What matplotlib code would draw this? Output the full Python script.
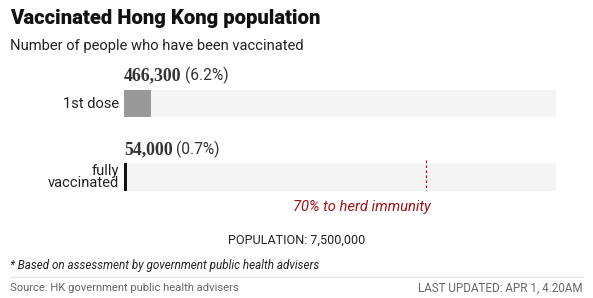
import matplotlib
matplotlib.use("Agg")
import matplotlib.pyplot as plt
from matplotlib import font_manager

# Data
categories = ["1st dose", "fully\nvaccinated"]
people = [466300, 54000]
population = 7500000
herd_share = 0.70
bar_colors = ["#999999", "#111111"]

W, H = 593, 298
fig = plt.figure(figsize=(W / 100, H / 100), dpi=100)
fig.patch.set_facecolor("white")

# Full-figure overlay axes in pixel units for text
ov = fig.add_axes([0, 0, 1, 1])
ov.set_xlim(0, W)
ov.set_ylim(H, 0)
ov.axis("off")


def pt(px):
    return px * 72 / 100


installed = {f.name for f in font_manager.fontManager.ttflist}
narrow = "Liberation Sans Narrow" if "Liberation Sans Narrow" in installed else "Roboto"

# Bar axes placed in pixel coordinates
left, right = 124, 556
bar_h = 0.369
pad = bar_h / 2
span = 1 + 2 * pad
ax_top, ax_bottom = 90, 190.5
px_per_unit = (ax_bottom - ax_top) / span
ax = fig.add_axes([left / W, 1 - ax_bottom / H, (right - left) / W, (ax_bottom - ax_top) / H])
ax.set_xlim(0, population)
ax.set_ylim(1 + pad, -pad)
ax.axis("off")

ypos = list(range(len(categories)))
ax.barh(ypos, [population] * len(ypos), height=bar_h, color="#f4f4f4", zorder=1)
ax.barh(ypos, people, height=bar_h, color=bar_colors, zorder=2)

# Herd-immunity marker on the fully vaccinated track
ax.vlines(population * herd_share, 1 - pad - 0.04, 1 + pad, colors="#b5121b",
          linestyles=(0, (2, 2)), linewidth=0.9, zorder=3)

fig.canvas.draw()
renderer = fig.canvas.get_renderer()

# Value labels above bars and category labels
for i, (cat, val) in enumerate(zip(categories, people)):
    yc = ax_top + (i + pad) * px_per_unit
    ybase = yc - bar_h / 2 * px_per_unit - 9.5
    t1 = ov.text(left, ybase, f"{val:,}", fontsize=pt(17.8), fontweight="bold",
                 family="Liberation Serif", color="#333333", va="baseline", ha="left")
    bb = t1.get_window_extent(renderer)
    x_end = ov.transData.inverted().transform((bb.x1, bb.y0))[0]
    ov.text(x_end + 3, ybase, f"({val / population * 100:.1f}%)", fontsize=pt(15.5),
            family=narrow, color="#333333", va="baseline", ha="left")
    ov.text(119, yc, cat, fontsize=pt(14.8), family="Roboto", color="#222222",
            ha="right", va="center", linespacing=0.9)

# Herd immunity note
ov.text(362, 207, "70% to herd immunity", fontsize=pt(14.8), family="Roboto",
        style="italic", color="#a50f15", ha="center", va="center")

ov.text(297, 240, f"POPULATION: {population:,}", fontsize=pt(12.6), family="Roboto",
        color="#222222", ha="center", va="center")

# Titles
ov.text(10, 18, "Vaccinated Hong Kong population", fontsize=pt(20.3), family="Roboto",
        fontweight="black", color="#111111", ha="left", va="center")
ov.text(10, 46, "Number of people who have been vaccinated", fontsize=pt(14.8),
        family="Roboto", color="#222222", ha="left", va="center")

# Footer
ov.text(10, 265, "* Based on assessment by government public health advisers",
        fontsize=pt(11.6), family="Roboto", style="italic", color="#222222",
        ha="left", va="center")
ov.plot([10, 583], [277, 277], color="#e3e3e3", linewidth=1)
ov.text(10, 288, "Source: HK government public health advisers", fontsize=pt(11.2),
        family="Roboto", color="#666666", ha="left", va="center")
ov.text(583, 288, "LAST UPDATED: APR 1, 4.20AM", fontsize=pt(11.6), family="Roboto",
        color="#666666", ha="right", va="center")

fig.savefig("out.png", dpi=100, facecolor="white")
